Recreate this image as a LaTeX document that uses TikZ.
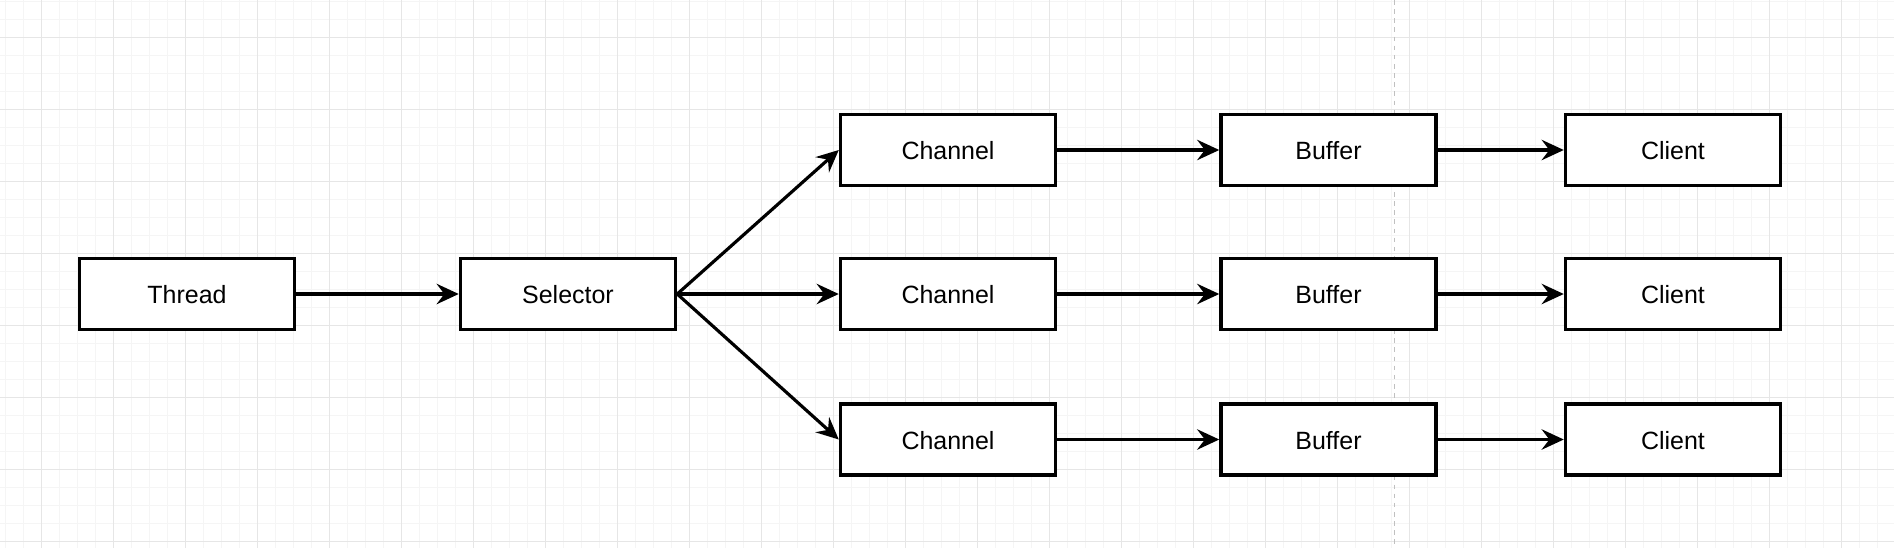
\documentclass[tikz,border=0pt]{standalone}
\usepackage{fontspec}
\setmainfont{Liberation Sans}
\usetikzlibrary{arrows.meta}

\begin{document}
\begin{tikzpicture}[x=0.01cm,y=-0.01cm,
  box/.style={draw=black,line width=0.95pt,fill=white,rectangle,minimum width=2.15cm,minimum height=0.71cm,inner sep=0pt,text height=0.55em,text depth=0pt,font=\fontsize{7.1}{8}\selectfont},
  link/.style={line width=0.9pt,-{Stealth[length=6.3pt,width=5.8pt,inset=2.2pt]}},
  minorline/.style={draw={rgb,255:red,245;green,245;blue,245},line width=0.3pt},
  majorline/.style={draw={rgb,255:red,230;green,230;blue,230},line width=0.35pt}]
\useasboundingbox (0,0) rectangle (1894,548);
\fill[white] (0,0) rectangle (1894,548);
% background grid
\foreach \gx in {5.3,23.3,...,1894} \draw[minorline] (\gx,0) -- (\gx,548);
\foreach \gy in {1.3,19.3,...,548} \draw[minorline] (0,\gy) -- (1894,\gy);
\foreach \gx in {41.3,113.3,...,1894} \draw[majorline] (\gx,0) -- (\gx,548);
\foreach \gy in {37.3,109.3,...,548} \draw[majorline] (0,\gy) -- (1894,\gy);
\draw[draw={rgb,255:red,192;green,192;blue,192},dash pattern=on 1.3pt off 1.3pt,line width=0.35pt] (1394.3,0) -- (1394.3,548); %page break
% nodes
\node[box] (thread) at (187,294) {Thread};
\node[box] (selector) at (568,294) {Selector};
\node[box] (channelA) at (948,150) {Channel};
\node[box] (channelB) at (948,294) {Channel};
\node[box] (channelC) at (948,439.5) {Channel};
\node[box] (bufferA) at (1328.5,150) {Buffer};
\node[box] (bufferB) at (1328.5,294) {Buffer};
\node[box] (bufferC) at (1328.5,439.5) {Buffer};
\node[box] (clientA) at (1673,150) {Client};
\node[box] (clientB) at (1673,294) {Client};
\node[box] (clientC) at (1673,439.5) {Client};
% arrows
\draw[link] (thread) -- (selector);
\draw[link] (selector.east) -- (channelA.west);
\draw[link] (selector.east) -- (channelB.west);
\draw[link] (selector.east) -- (channelC.west);
\draw[link] (channelA) -- (bufferA);
\draw[link] (channelB) -- (bufferB);
\draw[link] (channelC) -- (bufferC);
\draw[link] (bufferA) -- (clientA);
\draw[link] (bufferB) -- (clientB);
\draw[link] (bufferC) -- (clientC);
\end{tikzpicture}
\end{document}
